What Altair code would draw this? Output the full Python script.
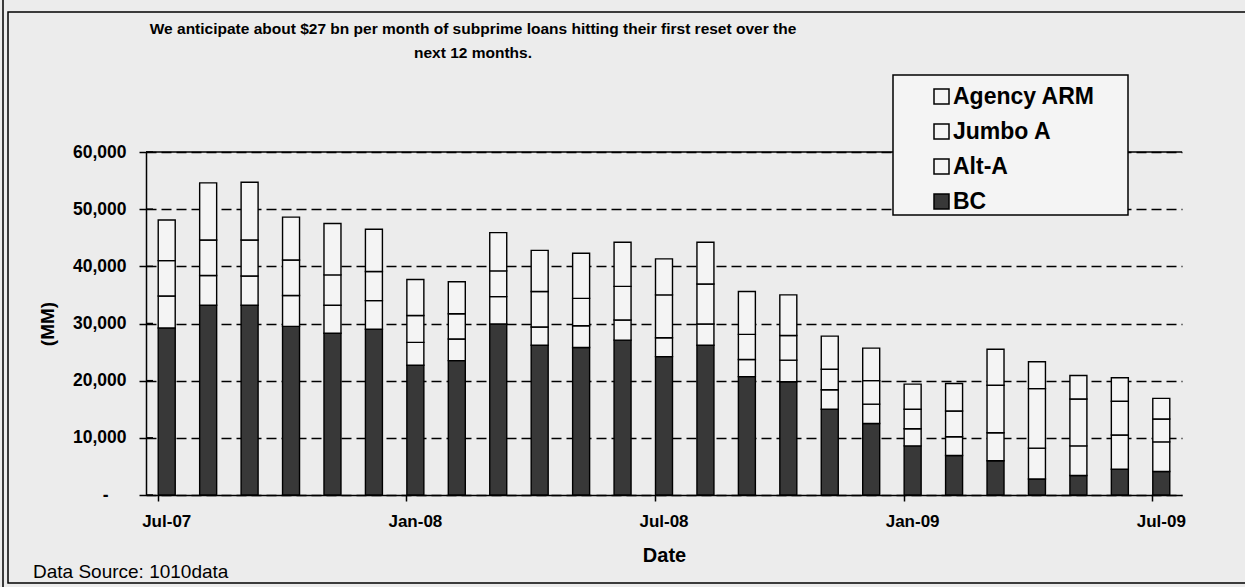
import altair as alt
import pandas as pd

# ---------------- data ----------------
months = ["Jul-07", "Aug-07", "Sep-07", "Oct-07", "Nov-07", "Dec-07",
          "Jan-08", "Feb-08", "Mar-08", "Apr-08", "May-08", "Jun-08",
          "Jul-08", "Aug-08", "Sep-08", "Oct-08", "Nov-08", "Dec-08",
          "Jan-09", "Feb-09", "Mar-09", "Apr-09", "May-09", "Jun-09", "Jul-09"]

bc = [29200, 33200, 33200, 29500, 28300, 29000, 22700, 23500, 29900, 26200,
      25800, 27100, 24200, 26200, 20700, 19800, 15000, 12500, 8600, 6900,
      6000, 2800, 3400, 4500, 4100]
alt_a = [5600, 5200, 5100, 5400, 4900, 5000, 4000, 3800, 4800, 3200,
         3800, 3500, 3300, 3700, 3000, 3800, 3400, 3400, 3000, 3300,
         4900, 5400, 5200, 6000, 5200]
jumbo_a = [6200, 6200, 6300, 6200, 5300, 5100, 4700, 4400, 4500, 6200,
           4800, 5900, 7500, 7000, 4400, 4300, 3600, 4100, 3400, 4500,
           8300, 10400, 8200, 5900, 4000]
agency_arm = [7100, 10000, 10100, 7500, 9000, 7400, 6300, 5600, 6700, 7200,
              7900, 7700, 6300, 7300, 7500, 7100, 5800, 5700, 4400, 4800,
              6300, 4700, 4100, 4100, 3600]

series_names = ["Agency ARM", "Jumbo A", "Alt-A", "BC"]
series_colors = ["#f4f4f4", "#f4f4f4", "#f4f4f4", "#383838"]
y_ticks = [0, 10000, 20000, 30000, 40000, 50000, 60000]
x_label_months = ["Jul-07", "Jan-08", "Jul-08", "Jan-09", "Jul-09"]

title_lines = ["We anticipate about $27 bn per month of subprime loans hitting their first reset over the",
               "next 12 months."]
source_text = ["Data Source: 1010data"]

rows = []
for i, m in enumerate(months):
    for order, (name, vals) in enumerate([("BC", bc), ("Alt-A", alt_a),
                                          ("Jumbo A", jumbo_a), ("Agency ARM", agency_arm)]):
        rows.append({"month": m, "series": name, "value": vals[i], "stack_order": order})
df = pd.DataFrame(rows)

FONT = "Liberation Sans"
W, H = 1036, 343
PL, PT = 146, 152
ONE = pd.DataFrame({"t": [0]})

bars = alt.Chart(df).mark_bar(stroke="black", strokeWidth=1.4).encode(
    x=alt.X("month:O", sort=months,
            scale=alt.Scale(paddingInner=0.59, paddingOuter=0.295),
            axis=alt.Axis(values=x_label_months, title="Date", labelAngle=0,
                          bandPosition=0, tickSize=6,
                          tickColor="black", tickWidth=1.5,
                          domainColor="black", domainWidth=1.5,
                          labelFont=FONT, labelFontSize=17, labelFontWeight="bold",
                          labelColor="black", labelPadding=12,
                          titleFont=FONT, titleFontSize=20, titleFontWeight="bold",
                          titleColor="black", titleY=60, titleBaseline="middle",
                          grid=False)),
    y=alt.Y("value:Q", stack="zero",
            scale=alt.Scale(domain=[0, 60000], nice=False),
            axis=alt.Axis(values=y_ticks, title="(MM)",
                          labelExpr="datum.value == 0 ? '-' : format(datum.value, ',')",
                          labelPadding=alt.condition("datum.value == 0", alt.value(31), alt.value(13)),
                          tickSize=7, tickColor="black", tickWidth=1.5,
                          domainColor="black", domainWidth=1.5,
                          labelFont=FONT, labelFontSize=17.5, labelFontWeight="bold",
                          labelColor="black",
                          grid=True, gridColor="black", gridDash=[10, 5], gridWidth=1.3,
                          titleFont=FONT, titleFontSize=19, titleFontWeight="bold",
                          titleColor="black", titleAngle=270, titleX=-99, titleY=H / 2,
                          titleAlign="center", titleBaseline="middle")),
    color=alt.Color("series:N",
                    scale=alt.Scale(domain=series_names, range=series_colors),
                    legend=alt.Legend(orient="none", legendX=747, legendY=-74, title=None,
                                      symbolType="square", symbolSize=225,
                                      symbolStrokeColor="black", symbolStrokeWidth=1.5,
                                      labelFont=FONT, labelFontSize=23, labelFontWeight="bold",
                                      labelColor="black", labelLimit=400,
                                      padding=7, rowPadding=11, symbolOffset=30, labelOffset=0)),
    order=alt.Order("stack_order:Q", sort="ascending"),
)

# inner halves of the y-axis tick marks (the reference ticks cross the axis)
inner_ticks = alt.Chart(pd.DataFrame({"value": y_ticks})).mark_rule(
    color="black", strokeWidth=1.5).encode(y="value:Q", x=alt.value(0), x2=alt.value(7))

top_line = alt.Chart(pd.DataFrame({"value": [60000]})).mark_rule(
    color="black", strokeWidth=1.5).encode(y="value:Q")

legend_box = alt.Chart(ONE).mark_rect(
    fill="#f4f4f4", stroke="black", strokeWidth=1.5).encode(
    x=alt.value(893 - PL), x2=alt.value(1128 - PL), y=alt.value(75 - PT), y2=alt.value(215 - PT))

title = alt.Chart(ONE).mark_text(
    align="center", baseline="top", font=FONT, fontSize=15.5, fontWeight="bold",
    color="black", lineHeight=24).encode(
    x=alt.value(473 - PL), y=alt.value(22 - PT), text=alt.value(title_lines))

source = alt.Chart(pd.DataFrame({"t": source_text})).mark_text(
    align="left", baseline="middle", font=FONT, fontSize=19, color="black").encode(
    x=alt.value(33 - PL), y=alt.value(572 - PT), text="t:N")

frame = alt.Chart(ONE).mark_rect(
    fillOpacity=0, stroke="black", strokeWidth=1.5).encode(
    x=alt.value(8 - PL), x2=alt.value(1320 - PL), y=alt.value(12 - PT), y2=alt.value(583 - PT))

outer_line = alt.Chart(ONE).mark_rule(
    color="black", strokeWidth=1.5).encode(
    x=alt.value(3 - PL), y=alt.value(-PT), y2=alt.value(587 - PT))

chart = alt.layer(frame, outer_line, bars, inner_ticks, top_line, legend_box, title, source).properties(
    width=W, height=H,
    padding={"left": PL, "top": PT, "right": 1245 - PL - W, "bottom": 587 - PT - H},
    autosize=alt.AutoSizeParams(type="none"),
    background="#ececec",
).configure_view(strokeWidth=0)

chart.save("out.html", embed_options={"renderer": "svg", "actions": False})
